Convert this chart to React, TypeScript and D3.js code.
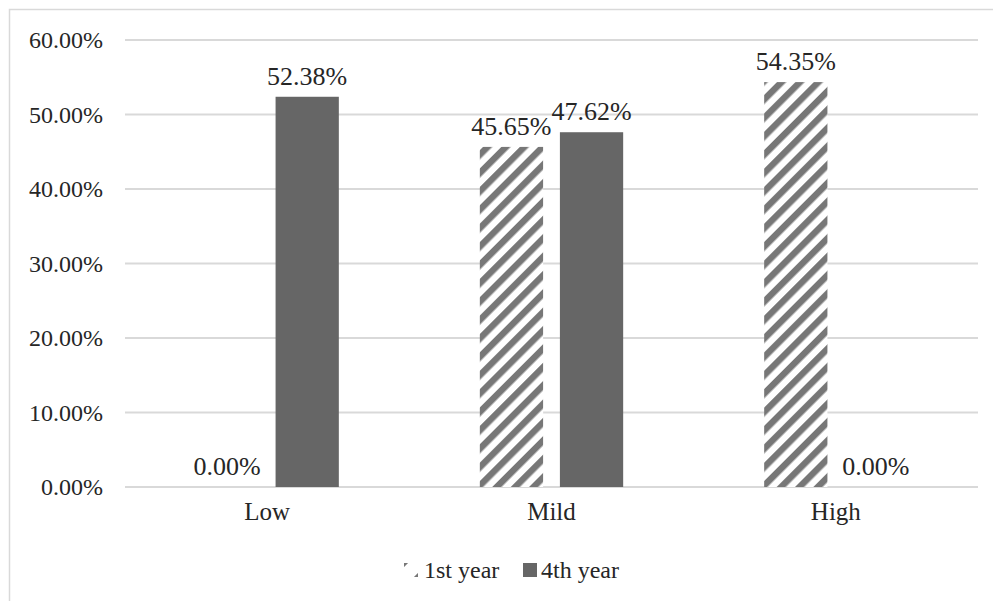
import * as d3 from "d3";
import { useEffect, useRef } from "react";

const categories = ["Low", "Mild", "High"];
const seriesNames = ["1st year", "4th year"];
const firstYear = [0, 45.65, 54.35];
const fourthYear = [52.38, 47.62, 0];
const yTicks = [0, 10, 20, 30, 40, 50, 60];

const App = () => {
  const ref = useRef(null);

  useEffect(() => {
    document.body.style.margin = "0";
    if (!ref.current) return;
    const svg = d3.select(ref.current);
    svg.selectAll("*").remove();

    const width = 993;
    const height = 601;
    const left = 125;
    const right = 978;
    const top = 40;
    const bottom = 487;
    const font = "'Liberation Serif', 'Times New Roman', serif";
    const gridColor = "#d9d9d9";
    const solid = "#666666";
    const stripe = "#777777";

    svg.attr("width", width).attr("height", height);

    // hatch pattern for 1st year bars
    const defs = svg.append("defs");
    const pat = defs
      .append("pattern")
      .attr("id", "hatch")
      .attr("patternUnits", "userSpaceOnUse")
      .attr("width", 13)
      .attr("height", 13)
      .attr("patternTransform", "rotate(45)");
    pat.append("rect").attr("width", 13).attr("height", 13).attr("fill", "white");
    pat.append("rect").attr("width", 6.5).attr("height", 13).attr("fill", stripe);

    // legend swatch: stripes only touch the corners, as in the original
    const patL = defs
      .append("pattern")
      .attr("id", "hatchLegend")
      .attr("patternUnits", "userSpaceOnUse")
      .attr("width", 20)
      .attr("height", 20)
      .attr("patternTransform", "translate(411,570) rotate(45) translate(-10,0)");
    patL.append("rect").attr("width", 20).attr("height", 20).attr("fill", "white");
    patL.append("rect").attr("width", 3).attr("height", 20).attr("fill", stripe);
    patL.append("rect").attr("x", 17).attr("width", 3).attr("height", 20).attr("fill", stripe);

    svg
      .append("rect")
      .attr("x", 9.5)
      .attr("y", 9.5)
      .attr("width", width)
      .attr("height", height)
      .attr("fill", "white")
      .attr("stroke", gridColor)
      .attr("stroke-width", 1.5);

    const y = d3.scaleLinear().domain([0, 60]).range([bottom, top]);
    const x0 = d3.scaleBand().domain(categories).range([left, right]).paddingInner(0).paddingOuter(0);
    const x1 = d3
      .scaleBand()
      .domain(seriesNames)
      .range([70.5, x0.bandwidth() - 70.5])
      .paddingInner(0.21);

    // gridlines and y labels
    svg
      .append("g")
      .selectAll("line")
      .data(yTicks)
      .join("line")
      .attr("x1", left)
      .attr("x2", right)
      .attr("y1", (d) => y(d))
      .attr("y2", (d) => y(d))
      .attr("stroke", gridColor)
      .attr("stroke-width", 2);

    svg
      .append("g")
      .selectAll("text")
      .data(yTicks)
      .join("text")
      .attr("x", 103)
      .attr("y", (d) => y(d))
      .attr("dy", "0.35em")
      .attr("text-anchor", "end")
      .style("font-family", font)
      .style("font-size", "24px")
      .attr("fill", "#262626")
      .text((d) => d3.format(".2f")(d) + "%");

    const rows = categories.map((c, i) => ({
      cat: c,
      vals: [
        { s: seriesNames[0], v: firstYear[i] },
        { s: seriesNames[1], v: fourthYear[i] },
      ],
    }));

    const groups = svg
      .append("g")
      .selectAll("g")
      .data(rows)
      .join("g")
      .attr("transform", (d) => `translate(${x0(d.cat)},0)`);

    groups
      .selectAll("rect")
      .data((d) => d.vals)
      .join("rect")
      .attr("x", (d) => x1(d.s)!)
      .attr("width", x1.bandwidth())
      .attr("y", (d) => y(d.v))
      .attr("height", (d) => bottom - y(d.v))
      .attr("fill", (d) => (d.s === seriesNames[0] ? "url(#hatch)" : solid));

    groups
      .selectAll("text")
      .data((d) => d.vals)
      .join("text")
      .attr("x", (d) => x1(d.s)! + x1.bandwidth() / 2)
      .attr("y", (d) => y(d.v) - 12)
      .attr("text-anchor", "middle")
      .style("font-family", font)
      .style("font-size", "26px")
      .attr("fill", "#262626")
      .text((d) => d3.format(".2f")(d.v) + "%");

    // category labels
    svg
      .append("g")
      .selectAll("text")
      .data(categories)
      .join("text")
      .attr("x", (d) => x0(d)! + x0.bandwidth() / 2)
      .attr("y", 520)
      .attr("text-anchor", "middle")
      .style("font-family", font)
      .style("font-size", "25px")
      .attr("fill", "#262626")
      .text((d) => d);

    // legend
    const legend = svg.append("g");
    const items = [
      { name: seriesNames[0], fill: "url(#hatchLegend)", x: 404, tx: 424 },
      { name: seriesNames[1], fill: solid, x: 523, tx: 541 },
    ];
    legend
      .selectAll("rect")
      .data(items)
      .join("rect")
      .attr("x", (d) => d.x)
      .attr("y", 563)
      .attr("width", 14)
      .attr("height", 14)
      .attr("fill", (d) => d.fill);
    legend
      .selectAll("text")
      .data(items)
      .join("text")
      .attr("x", (d) => d.tx)
      .attr("y", 578)
      .style("font-family", font)
      .style("font-size", "24px")
      .attr("fill", "#262626")
      .text((d) => d.name);
  }, []);

  return <svg ref={ref} style={{ display: "block" }} />;
};

export default App;
